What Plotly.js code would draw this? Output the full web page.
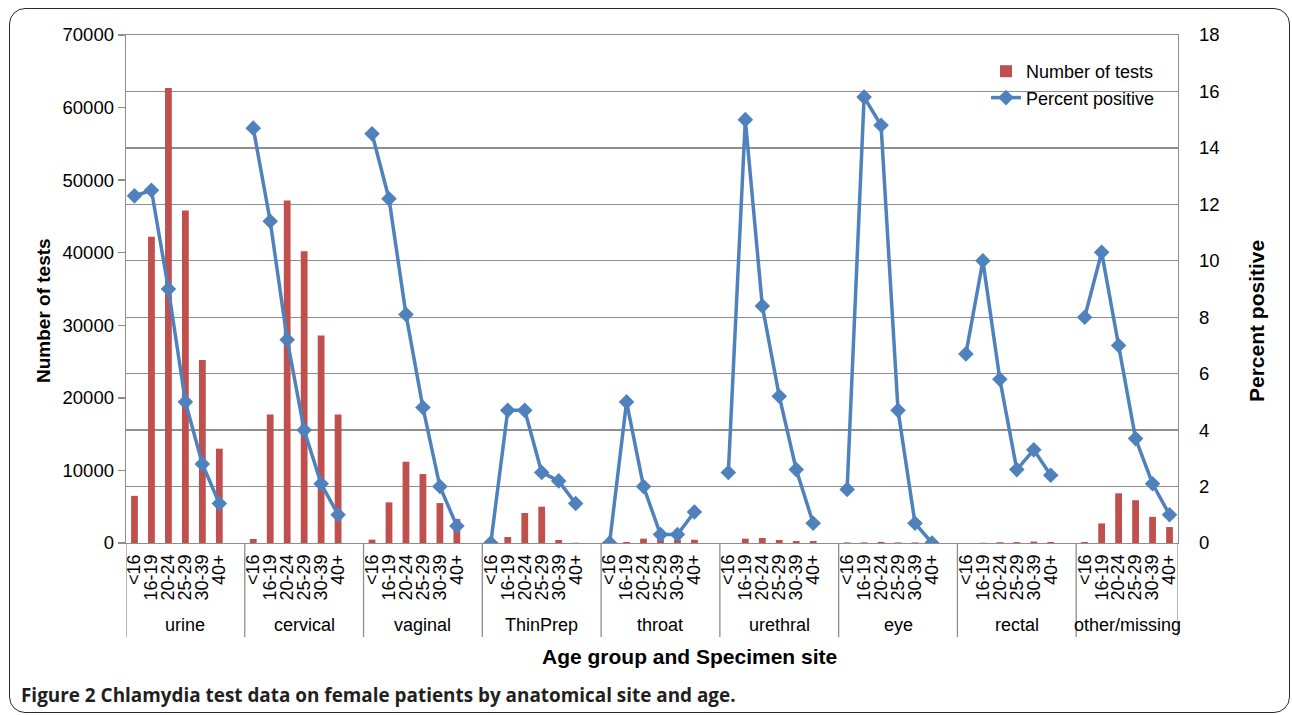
<!DOCTYPE html>
<html>
<head>
<meta charset="utf-8">
<script src="https://cdn.plot.ly/plotly-3.0.1.min.js"></script>
<style>
  html, body { margin: 0; padding: 0; background: #fff; }
  #wrap { position: relative; width: 1292px; height: 715px; }
  #chart { position: absolute; left: 0; top: 0; width: 1292px; height: 715px; }
  #frame { position: absolute; left: 9px; top: 8px; width: 1279px; height: 703px;
           border: 1.6px solid #2a2a2a; border-radius: 16px; pointer-events: none; }
</style>
</head>
<body>
<div id="wrap">
  <div id="chart"></div>
  <div id="frame"></div>
</div>
<script>
// ---- data ----
const ages = ['<16', '16-19', '20-24', '25-29', '30-39', '40+'];
const sites = ['urine', 'cervical', 'vaginal', 'ThinPrep', 'throat', 'urethral', 'eye', 'rectal', 'other/missing'];

const testsUrine    = [6500, 42200, 62700, 45800, 25200, 13000];
const testsCervical = [550, 17700, 47200, 40200, 28600, 17700];
const testsVaginal  = [460, 5600, 11200, 9500, 5500, 3300];
const testsThinPrep = [0, 830, 4130, 5000, 410, 30];
const testsThroat   = [0, 150, 600, 550, 500, 450];
const testsUrethral = [0, 600, 690, 410, 280, 280];
const testsEye      = [80, 80, 150, 80, 80, 0];
const testsRectal   = [0, 30, 100, 130, 200, 150];
const testsOther    = [140, 2700, 6850, 5900, 3600, 2200];

const pctUrine    = [12.3, 12.5, 9.0, 5.0, 2.8, 1.4];
const pctCervical = [14.7, 11.4, 7.2, 4.0, 2.1, 1.0];
const pctVaginal  = [14.5, 12.2, 8.1, 4.8, 2.0, 0.6];
const pctThinPrep = [0, 4.7, 4.7, 2.5, 2.2, 1.4];
const pctThroat   = [0, 5.0, 2.0, 0.3, 0.3, 1.1];
const pctUrethral = [2.5, 15.0, 8.4, 5.2, 2.6, 0.7];
const pctEye      = [1.9, 15.8, 14.8, 4.7, 0.7, 0];
const pctRectal   = [6.7, 10.0, 5.8, 2.6, 3.3, 2.4];
const pctOther    = [8.0, 10.3, 7.0, 3.7, 2.1, 1.0];

const testsBySite = [testsUrine, testsCervical, testsVaginal, testsThinPrep, testsThroat, testsUrethral, testsEye, testsRectal, testsOther];
const pctBySite   = [pctUrine, pctCervical, pctVaginal, pctThinPrep, pctThroat, pctUrethral, pctEye, pctRectal, pctOther];

// ---- build positions (each site: 6 age slots + 1 empty spacer slot) ----
const SLOTS = ages.length + 1;
const nSites = sites.length;
const lastSlot = nSites * SLOTS - 2; // final site has no trailing spacer

const barX = [], barY = [], lineX = [], lineY = [], tickVals = [], tickText = [];
sites.forEach((s, g) => {
  ages.forEach((a, i) => {
    const x = g * SLOTS + i;
    barX.push(x); barY.push(testsBySite[g][i]);
    lineX.push(x); lineY.push(pctBySite[g][i]);
    tickVals.push(x); tickText.push(a);
  });
  lineX.push(g * SLOTS + ages.length); lineY.push(null); // break between sites
});

const FONT = 'Liberation Sans, Arial, sans-serif';
const GRID = '#8e8e8e';

const traces = [
  {
    type: 'bar', name: 'Number of tests', x: barX, y: barY,
    marker: { color: '#C0504D' }, yaxis: 'y', xaxis: 'x', hoverinfo: 'x+y'
  },
  {
    type: 'scatter', mode: 'lines+markers', name: 'Percent positive',
    x: lineX, y: lineY, yaxis: 'y2', xaxis: 'x', connectgaps: false,
    line: { color: '#4F81BD', width: 3.5 },
    marker: { symbol: 'diamond', size: 12, color: '#4F81BD' }
  }
];

const plotTop = 35, plotH = 508;
const pyPaper = (py) => (plotTop + plotH - py) / plotH; // pixel y -> paper y
const pxPaper = (px) => (px - 126) / 1052;               // pixel x -> paper x

const shapes = [];
for (let g = 0; g <= nSites; g++) {
  const xb = g === nSites ? lastSlot + 0.5 : g * SLOTS - 0.5;
  shapes.push({ type: 'line', xref: 'x', yref: 'paper', x0: xb, x1: xb, y0: 0, y1: pyPaper(637),
                line: { color: GRID, width: 1.3 } });
}

const annotations = sites.map((s, g) => {
  const x0 = g * SLOTS - 0.5;
  const x1 = g === nSites - 1 ? lastSlot + 0.5 : (g + 1) * SLOTS - 0.5;
  return { text: s, xref: 'x', yref: 'paper', x: (x0 + x1) / 2, y: pyPaper(625),
           xanchor: 'center', yanchor: 'middle', showarrow: false,
           font: { family: FONT, size: 18, color: '#000' } };
});
annotations.push(
  { text: '<b>Number of tests</b>', xref: 'paper', yref: 'paper', x: pxPaper(44), y: pyPaper(311),
    textangle: -90, showarrow: false, xanchor: 'center', yanchor: 'middle',
    font: { family: FONT, size: 19, color: '#000' } },
  { text: '<b>Percent positive</b>', xref: 'paper', yref: 'paper', x: pxPaper(1256), y: pyPaper(321),
    textangle: -90, showarrow: false, xanchor: 'center', yanchor: 'middle',
    font: { family: FONT, size: 21, color: '#000' } },
  { text: '<b>Age group and Specimen site</b>', xref: 'paper', yref: 'paper', x: pxPaper(689), y: pyPaper(656),
    showarrow: false, xanchor: 'center', yanchor: 'middle',
    font: { family: FONT, size: 21, color: '#000' } },
  { text: '<b>Figure 2</b> <b>Chlamydia test data on female patients by anatomical site and age.</b>',
    xref: 'paper', yref: 'paper', x: pxPaper(19), y: pyPaper(695),
    showarrow: false, xanchor: 'left', yanchor: 'middle',
    font: { family: 'Open Sans, sans-serif', size: 18.9, color: '#231F20' } }
);

const layout = {
  width: 1292, height: 715,
  margin: { l: 126, r: 114, t: 35, b: 172, pad: 0 },
  paper_bgcolor: 'rgba(0,0,0,0)', plot_bgcolor: '#fff',
  font: { family: FONT, size: 18, color: '#000' },
  bargap: 0.6,
  showlegend: true,
  legend: {
    x: pxPaper(986), y: pyPaper(53), xanchor: 'left', yanchor: 'top',
    bgcolor: 'rgba(0,0,0,0)', borderwidth: 0,
    font: { family: FONT, size: 18, color: '#000' }, tracegroupgap: 0
  },
  xaxis: {
    range: [-0.5, lastSlot + 0.5], tickmode: 'array', tickvals: tickVals, ticktext: tickText,
    tickangle: -90, tickfont: { family: FONT, size: 18, color: '#000' },
    showgrid: false, zeroline: false, showline: true, linecolor: GRID, linewidth: 1.3,
    mirror: true, ticks: '', ticklabelstandoff: 3, fixedrange: true
  },
  yaxis: {
    range: [0, 70000], dtick: 10000, tick0: 0, tickformat: 'd',
    showgrid: false, zeroline: false, showline: true, linecolor: GRID, linewidth: 1.3,
    ticks: 'outside', ticklen: 7, tickcolor: GRID, tickwidth: 1.3,
    tickfont: { family: FONT, size: 18.5, color: '#000' }
  },
  yaxis2: {
    range: [0, 18], dtick: 2, tick0: 0, overlaying: 'y', side: 'right',
    showgrid: true, gridcolor: GRID, gridwidth: 1.3, zeroline: false,
    showline: true, linecolor: GRID, linewidth: 1.3, ticks: '',
    ticklabelstandoff: 16,
    tickfont: { family: FONT, size: 18.5, color: '#000' }
  },
  shapes: shapes,
  annotations: annotations
};

Plotly.newPlot('chart', traces, layout, { staticPlot: true, displayModeBar: false });
</script>
</body>
</html>
